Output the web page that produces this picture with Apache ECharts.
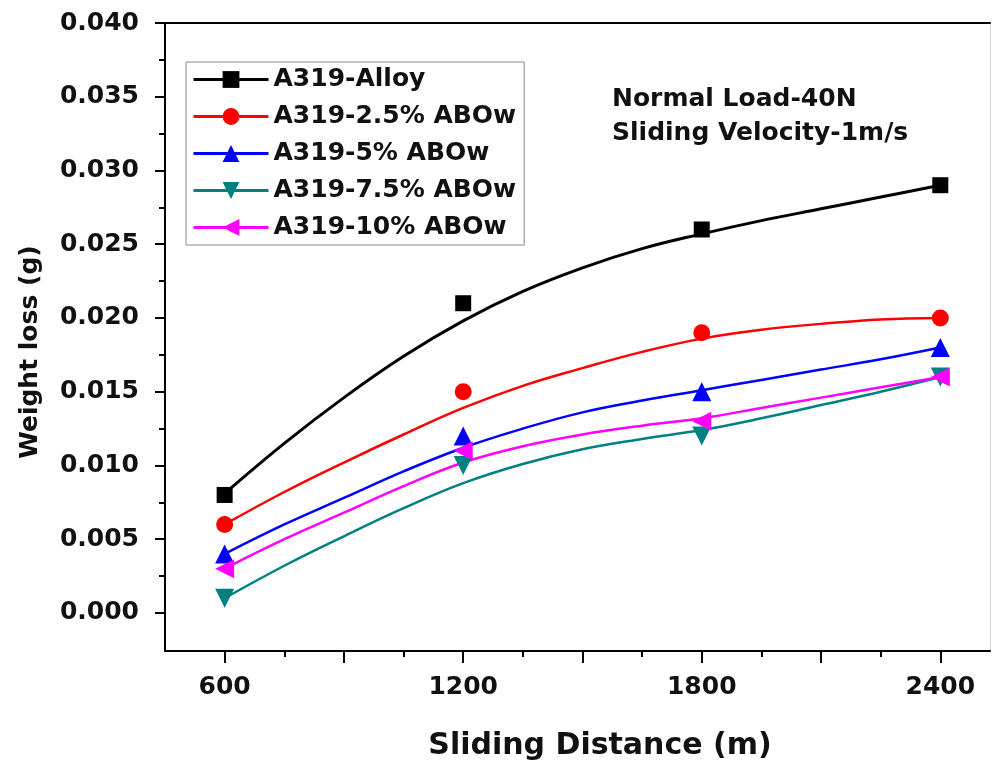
<!DOCTYPE html>
<html>
<head>
<meta charset="utf-8">
<script src="https://cdn.jsdelivr.net/npm/echarts@6/dist/echarts.min.js"></script>
<style>
  html, body { margin: 0; padding: 0; background: #ffffff; }
  #chart { width: 994px; height: 760px; }
</style>
</head>
<body>
<div id="chart"></div>
<script>
// Measured weight loss (g) at each sliding distance (m)
const distances = [600, 1200, 1800, 2400];
const alloy   = [0.008, 0.021, 0.026, 0.029];
const abow25  = [0.006, 0.015, 0.019, 0.020];
const abow5   = [0.004, 0.012, 0.015, 0.018];
const abow75  = [0.001, 0.010, 0.012, 0.016];
const abow10  = [0.003, 0.011, 0.013, 0.016];

// Fitted trend curves, sampled every 150 m
const fitDistances = [600, 750, 900, 1050, 1200, 1350, 1500, 1650, 1800, 1950, 2100, 2250, 2400];
const fitAlloy  = [0.0081, 0.0115, 0.0146, 0.0174, 0.0198, 0.0218, 0.0234, 0.0247, 0.0257, 0.0266, 0.0274, 0.0282, 0.0290];
const fit25     = [0.0060, 0.0082, 0.0102, 0.0121, 0.0139, 0.0154, 0.0166, 0.0177, 0.0186, 0.0192, 0.0196, 0.0199, 0.0200];
const fit5      = [0.0040, 0.0060, 0.0078, 0.0096, 0.0112, 0.0125, 0.0136, 0.0144, 0.0151, 0.0158, 0.0165, 0.0172, 0.0180];
const fit75     = [0.0010, 0.0032, 0.0052, 0.0071, 0.0088, 0.0101, 0.0111, 0.0118, 0.0124, 0.0132, 0.0141, 0.0150, 0.0160];
const fit10     = [0.0030, 0.0050, 0.0068, 0.0086, 0.0102, 0.0113, 0.0121, 0.0127, 0.0132, 0.0139, 0.0146, 0.0153, 0.0160];

const seriesNames = ['A319-Alloy', 'A319-2.5% ABOw', 'A319-5% ABOw', 'A319-7.5% ABOw', 'A319-10% ABOw'];

// Axis ticks and labels
const xMajorTicks = [600, 900, 1200, 1500, 1800, 2100, 2400];
const xMinorTicks = [750, 1050, 1350, 1650, 1950, 2250];
const xLabels     = [600, 1200, 1800, 2400];
const yMajorTicks = [0, 0.005, 0.010, 0.015, 0.020, 0.025, 0.030, 0.035, 0.040];
const yMinorTicks = [0.0025, 0.0075, 0.0125, 0.0175, 0.0225, 0.0275, 0.0325, 0.0375];

const FONT = 'DejaVu Sans';
const X_MIN = 450, X_MAX = 2525, Y_MIN = -0.00258, Y_MAX = 0.040;

const styles = [
  { color: '#000000', symbol: 'rect',     rotate: 0,   size: 16, lw: 3 },
  { color: '#ff0000', symbol: 'circle',   rotate: 0,   size: 17, lw: 2.5 },
  { color: '#0000ff', symbol: 'triangle', rotate: 0,   size: 19, lw: 2.5 },
  { color: '#008080', symbol: 'triangle', rotate: 180, size: 19, lw: 2.5 },
  { color: '#ff00ff', symbol: 'triangle', rotate: 90,  size: 19, lw: 2.5 }
];
const measured = [alloy, abow25, abow5, abow75, abow10];
const fitted = [fitAlloy, fit25, fit5, fit75, fit10];

const zip = (xs, ys) => xs.map((x, i) => [x, ys[i]]);

const series = [];
// fitted curves first (their style drives the legend icons)
seriesNames.forEach((name, i) => {
  const s = styles[i];
  series.push({
    name: name,
    type: 'line',
    smooth: 0.4,
    data: zip(fitDistances, fitted[i]),
    showSymbol: false,
    symbol: s.symbol,
    symbolRotate: s.rotate,
    symbolSize: s.size,
    lineStyle: { color: s.color, width: s.lw },
    itemStyle: { color: s.color },
    z: 2,
    silent: true
  });
});
seriesNames.forEach((name, i) => {
  const s = styles[i];
  series.push({
    name: name,
    type: 'scatter',
    data: zip(distances, measured[i]),
    symbol: s.symbol,
    symbolRotate: s.rotate,
    symbolSize: s.size,
    itemStyle: { color: s.color, opacity: 1 },
    z: 3,
    silent: true
  });
});

const baseX = { type: 'value', min: X_MIN, max: X_MAX, gridIndex: 0, splitLine: { show: false } };
const baseY = { type: 'value', min: Y_MIN, max: Y_MAX, gridIndex: 0, splitLine: { show: false } };

const option = {
  animation: false,
  backgroundColor: '#ffffff',
  grid: { left: 165, right: 4, top: 23, bottom: 109, containLabel: false },
  legend: {
    orient: 'vertical',
    left: 186,
    top: 62,
    data: seriesNames,
    itemWidth: 75,
    itemHeight: 21,
    itemGap: 12,
    padding: [5, 8, 5, 6],
    borderColor: '#8a8a8a',
    borderWidth: 1,
    backgroundColor: '#ffffff',
    selectedMode: false,
    lineStyle: { width: 3 },
    textStyle: { fontFamily: FONT, fontWeight: 'bold', fontSize: 25, color: '#111', lineHeight: 22 }
  },
  xAxis: [
    Object.assign({}, baseX, {
      position: 'bottom',
      axisLine: { onZero: false, lineStyle: { color: '#000', width: 2 } },
      axisTick: { show: true, length: 12, lineStyle: { color: '#000', width: 2 }, customValues: xMajorTicks },
      axisLabel: {
        customValues: xLabels, margin: 24,
        fontFamily: FONT, fontWeight: 'bold', fontSize: 25, color: '#111',
        formatter: v => String(v)
      }
    }),
    Object.assign({}, baseX, {
      position: 'bottom',
      axisLine: { show: false, onZero: false },
      axisTick: { show: true, length: 6, lineStyle: { color: '#000', width: 2 }, customValues: xMinorTicks },
      axisLabel: { show: false }
    }),
    Object.assign({}, baseX, {
      position: 'top',
      axisLine: { show: true, onZero: false, lineStyle: { color: '#000', width: 2 } },
      axisTick: { show: false },
      axisLabel: { show: false }
    })
  ],
  yAxis: [
    Object.assign({}, baseY, {
      position: 'left',
      axisLine: { onZero: false, lineStyle: { color: '#000', width: 2 } },
      axisTick: { show: true, length: 10, lineStyle: { color: '#000', width: 2 }, customValues: yMajorTicks },
      axisLabel: {
        customValues: yMajorTicks, margin: 26,
        fontFamily: FONT, fontWeight: 'bold', fontSize: 25, color: '#111',
        formatter: v => v.toFixed(3)
      }
    }),
    Object.assign({}, baseY, {
      position: 'left',
      axisLine: { show: false, onZero: false },
      axisTick: { show: true, length: 6, lineStyle: { color: '#000', width: 2 }, customValues: yMinorTicks },
      axisLabel: { show: false }
    }),
    Object.assign({}, baseY, {
      position: 'right',
      axisLine: { show: true, onZero: false, lineStyle: { color: '#d4d4d4', width: 1 } },
      axisTick: { show: false },
      axisLabel: { show: false }
    })
  ],
  graphic: [
    {
      type: 'text', left: 612, top: 87,
      style: { text: 'Normal Load-40N', fontFamily: FONT, fontWeight: 'bold', fontSize: 25, fill: '#111' }
    },
    {
      type: 'text', left: 612, top: 121,
      style: { text: 'Sliding Velocity-1m/s', fontFamily: FONT, fontWeight: 'bold', fontSize: 25, fill: '#111' }
    },
    {
      type: 'text', x: 600, y: 746,
      style: { text: 'Sliding Distance (m)', fontFamily: FONT, fontWeight: 'bold', fontSize: 30, fill: '#111', align: 'center', verticalAlign: 'middle' }
    },
    {
      type: 'text', x: 30, y: 352, rotation: Math.PI / 2,
      style: { text: 'Weight loss (g)', fontFamily: FONT, fontWeight: 'bold', fontSize: 25, fill: '#111', align: 'center', verticalAlign: 'middle' }
    }
  ],
  series: series.map(s => Object.assign(s, { xAxisIndex: 0, yAxisIndex: 0 }))
};

const chart = echarts.init(document.getElementById('chart'), null, { renderer: 'canvas' });
chart.setOption(option);
</script>
</body>
</html>
